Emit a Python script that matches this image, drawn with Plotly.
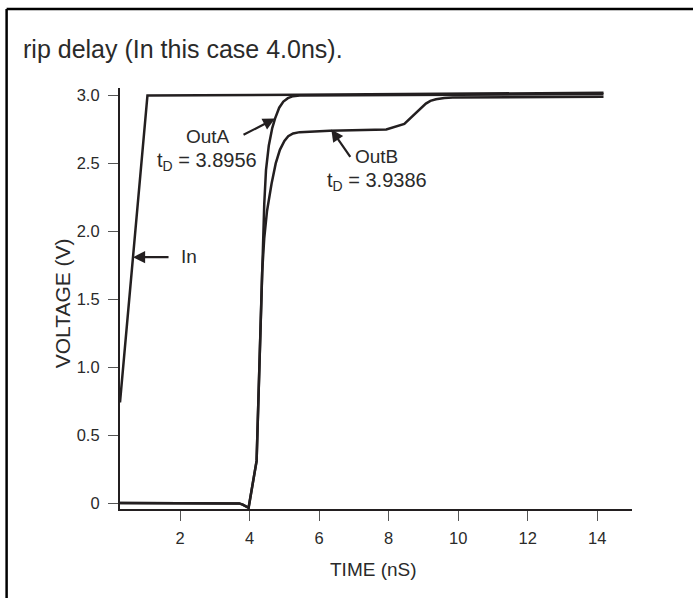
import plotly.graph_objects as go

# ---- data ----
in_t = [0.27, 1.06, 5.4, 14.18]
in_v = [0.74, 3.0, 3.005, 3.02]

outa_t = [0.27, 3.55, 3.70, 3.80, 3.97, 4.20, 4.30, 4.36, 4.42, 4.47, 4.55, 4.65, 4.73,
          4.85, 4.97, 5.10, 5.25, 5.44, 14.18]
outa_v = [0.0, 0.0, -0.003, -0.012, -0.035, 0.31, 1.16, 1.78, 2.20, 2.45, 2.63, 2.76, 2.83,
          2.91, 2.955, 2.98, 2.995, 3.0, 3.01]

outb_t = [0.27, 3.55, 3.70, 3.80, 3.97, 4.20, 4.30, 4.36, 4.42, 4.50, 4.63, 4.75, 4.87,
          5.00, 5.11, 5.25, 5.44, 6.30, 7.93, 8.45, 9.07, 9.20, 9.36, 9.60, 9.84, 14.18]
outb_v = [0.0, 0.0, -0.003, -0.012, -0.035, 0.31, 1.16, 1.70, 1.95, 2.15, 2.35, 2.50, 2.60,
          2.665, 2.70, 2.72, 2.73, 2.74, 2.75, 2.79, 2.94, 2.96, 2.972, 2.982, 2.985, 2.99]

y_tickvals = [0, 0.5, 1.0, 1.5, 2.0, 2.5, 3.0]
y_ticktext = ["0", "0.5", "1.0", "1.5", "2.0", "2.5", "3.0"]
x_tickvals = [2, 4, 6, 8, 10, 12, 14]
x_ticktext = ["2", "4", "6", "8", "10", "12", "14"]

title_text = "rip delay (In this case 4.0ns)."
x_title = "TIME (nS)"
y_title = "VOLTAGE (V)"

INK = "#231f20"
TXT = "#2a2a2a"
FONT = "Liberation Sans, Arial, sans-serif"

fig = go.Figure()
for t, v in [(in_t, in_v), (outa_t, outa_v), (outb_t, outb_v)]:
    fig.add_trace(go.Scatter(x=t, y=v, mode="lines",
                             line=dict(color=INK, width=2.5),
                             showlegend=False, hoverinfo="skip"))

L, R, T, B = 119.5, 632.0, 88.0, 509.5
W, H = 693, 598

def px2paper_x(px):
    return (px - L) / (R - L)

def px2paper_y(py):
    return (B - py) / (B - T)

fig.update_layout(
    width=W, height=H,
    margin=dict(l=L, r=W - R, t=T, b=H - B, pad=0),
    paper_bgcolor="white", plot_bgcolor="white",
    font=dict(family=FONT, color=TXT, size=16),
    xaxis=dict(range=[0.27, 15.0], showgrid=False, zeroline=False,
               showline=True, linecolor=INK, linewidth=2.2,
               ticks="outside", ticklen=10, tickwidth=1.3, tickcolor="#555555",
               tickvals=x_tickvals, ticktext=x_ticktext, ticklabelstandoff=3,
               tickfont=dict(size=16.5, color=TXT)),
    yaxis=dict(range=[-0.044, 3.055], showgrid=False, zeroline=False,
               showline=True, linecolor=INK, linewidth=2.2,
               ticks="outside", ticklen=10, tickwidth=1.3, tickcolor="#555555",
               tickvals=y_tickvals, ticktext=y_ticktext, ticklabelstandoff=5,
               tickfont=dict(size=16.5, color=TXT)),
)

# axis titles
fig.add_annotation(xref="paper", yref="paper", x=px2paper_x(373), y=px2paper_y(570),
                   xanchor="center", yanchor="middle", showarrow=False,
                   text=x_title, font=dict(size=19, color=TXT, family=FONT))
fig.add_annotation(xref="paper", yref="paper", x=px2paper_x(62), y=px2paper_y(304),
                   xanchor="center", yanchor="middle", showarrow=False, textangle=-90,
                   text=y_title, font=dict(size=21, color=TXT, family=FONT))

# frame (top and left border)
fig.add_shape(type="line", xref="paper", yref="paper",
              x0=px2paper_x(6), y0=px2paper_y(9), x1=px2paper_x(700), y1=px2paper_y(9),
              line=dict(color="black", width=2.5))
fig.add_shape(type="line", xref="paper", yref="paper",
              x0=px2paper_x(6), y0=px2paper_y(9), x1=px2paper_x(6), y1=px2paper_y(610),
              line=dict(color="black", width=2.5))

# title text (cropped sentence)
fig.add_annotation(xref="paper", yref="paper", x=px2paper_x(20), y=px2paper_y(49),
                   xanchor="left", yanchor="middle", showarrow=False,
                   text=title_text, font=dict(size=25, color=TXT, family=FONT))

# arrows
arrow_kw = dict(showarrow=True, arrowhead=2, arrowsize=1.1, arrowwidth=2.2,
                arrowcolor=INK, text="", xref="x", yref="y")
fig.add_annotation(x=0.645, y=1.81, ax=37, ay=0, **arrow_kw)
fig.add_annotation(x=4.73, y=2.83, ax=-33, ay=17, **arrow_kw)
fig.add_annotation(x=6.35, y=2.75, ax=20, ay=29, **arrow_kw)

# labels
lab_font = dict(size=19, color=TXT, family=FONT)
td_font = dict(size=20, color=TXT, family=FONT)
fig.add_annotation(xref="paper", yref="paper", x=px2paper_x(179), y=px2paper_y(257),
                   xanchor="left", yanchor="middle", showarrow=False, text="In", font=lab_font)
fig.add_annotation(xref="paper", yref="paper", x=px2paper_x(207.5), y=px2paper_y(137),
                   xanchor="center", yanchor="middle", showarrow=False, text="OutA", font=lab_font)
fig.add_annotation(xref="paper", yref="paper", x=px2paper_x(207), y=px2paper_y(162),
                   xanchor="center", yanchor="middle", showarrow=False,
                   text="t<sub>D</sub> = 3.8956", font=td_font)
fig.add_annotation(xref="paper", yref="paper", x=px2paper_x(376), y=px2paper_y(157),
                   xanchor="center", yanchor="middle", showarrow=False, text="OutB", font=lab_font)
fig.add_annotation(xref="paper", yref="paper", x=px2paper_x(377), y=px2paper_y(182),
                   xanchor="center", yanchor="middle", showarrow=False,
                   text="t<sub>D</sub> = 3.9386", font=td_font)

fig.write_html("out.html", config={"displayModeBar": False},
               post_script="document.body.style.margin='0px';")
